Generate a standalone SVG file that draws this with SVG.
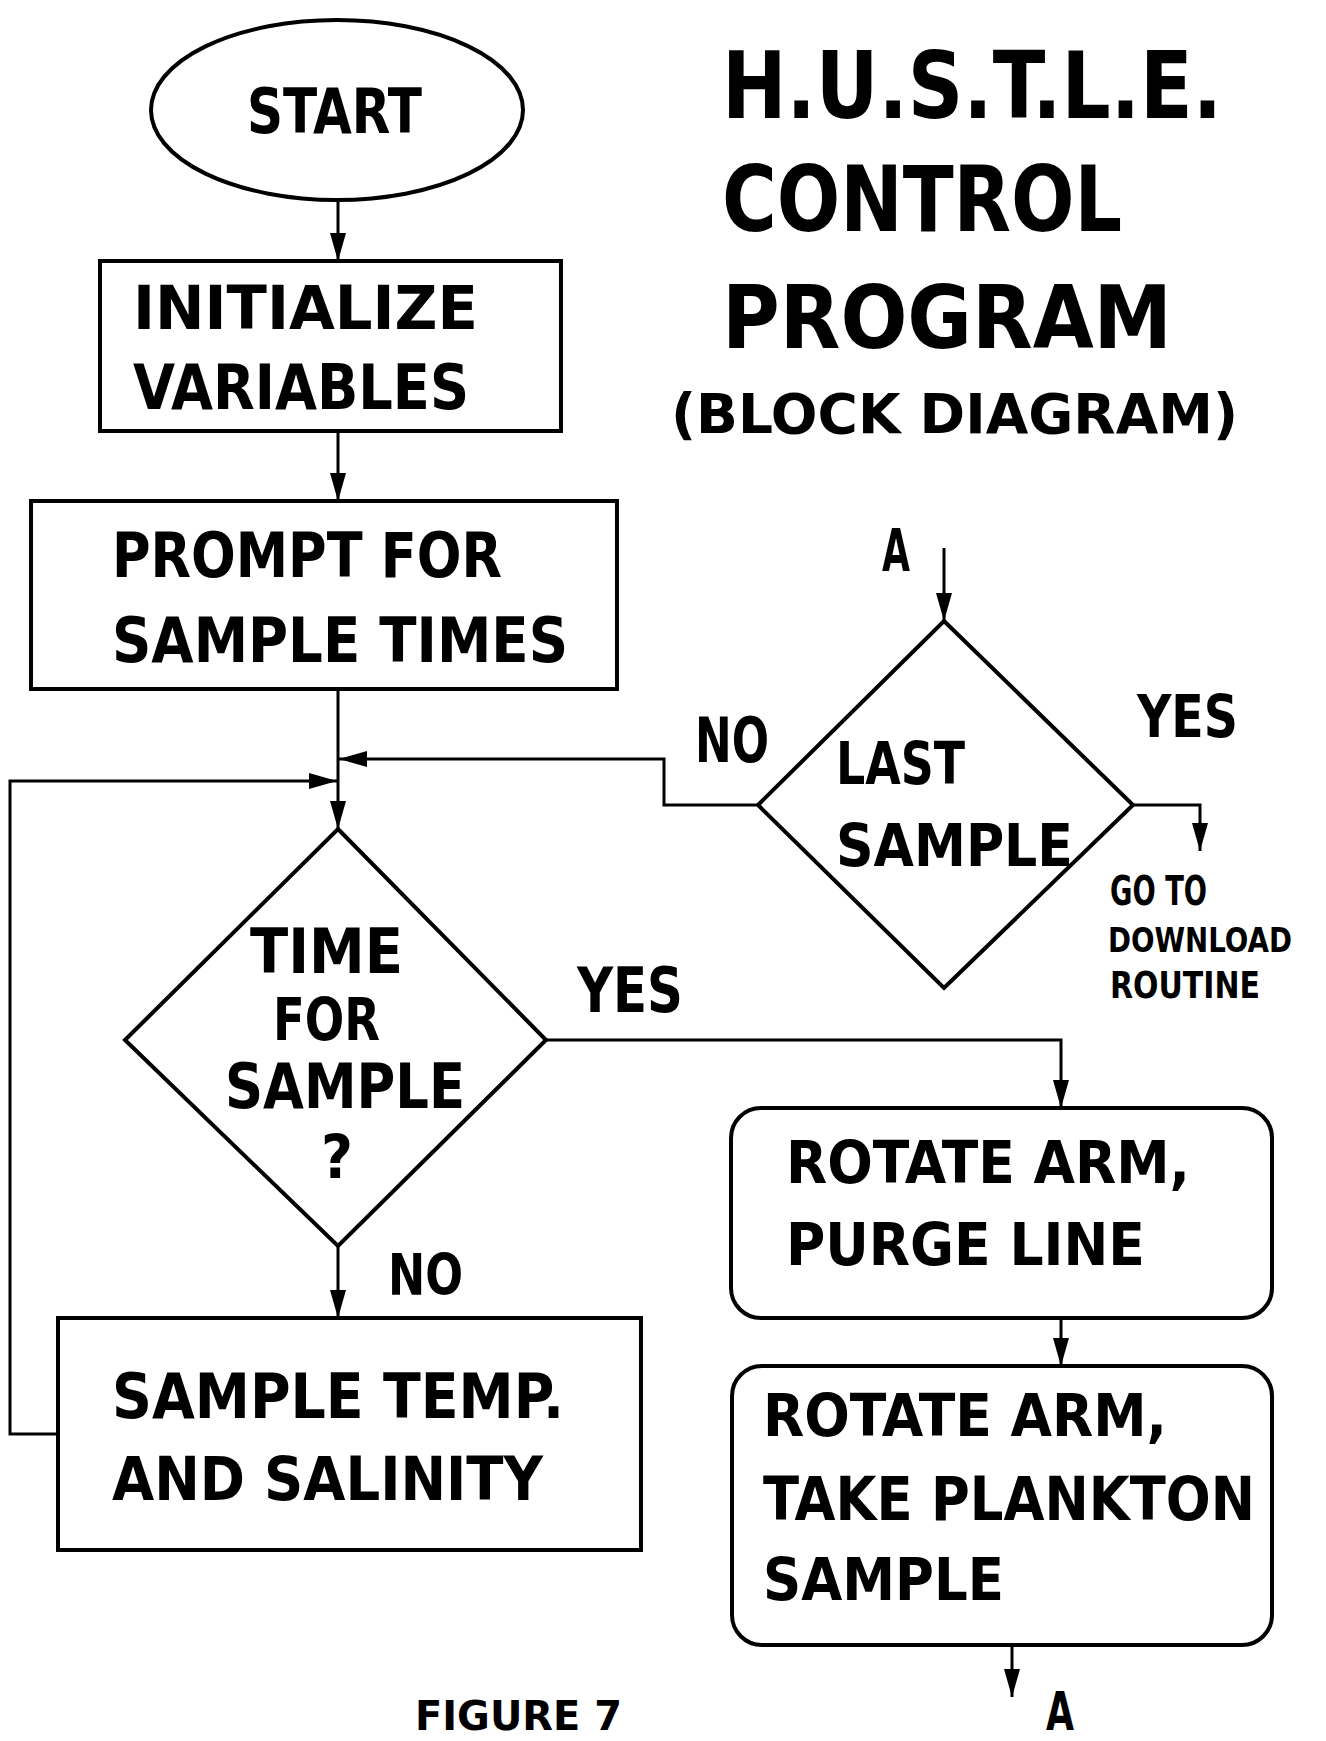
<svg xmlns="http://www.w3.org/2000/svg" width="1326" height="1741" viewBox="0 0 1326 1741">
<style>
.t{font-family:"DejaVu Sans Condensed","Liberation Sans Narrow",sans-serif;font-weight:bold;fill:#000}
.s{fill:#fff;stroke:#000;stroke-width:4}
.c{fill:none;stroke:#000;stroke-width:3}
</style>
<defs>
<marker id="ah" markerUnits="userSpaceOnUse" markerWidth="30" markerHeight="18" refX="28" refY="8" orient="auto">
<path d="M0,0 L28,8 L0,16 z" fill="#000"/>
</marker>
</defs>
<rect width="1326" height="1741" fill="#fff"/>
<g id="connectors">
<line class="c" x1="338" y1="201" x2="338" y2="261" marker-end="url(#ah)"/>
<line class="c" x1="338" y1="431" x2="338" y2="501" marker-end="url(#ah)"/>
<line class="c" x1="338" y1="689" x2="338" y2="829" marker-end="url(#ah)"/>
<polyline class="c" points="758,805 664,805 664,759 339,759" marker-end="url(#ah)"/>
<polyline class="c" points="58,1434 10,1434 10,781 337,781" marker-end="url(#ah)"/>
<polyline class="c" points="546,1040 1061,1040 1061,1108" marker-end="url(#ah)"/>
<line class="c" x1="338" y1="1246" x2="338" y2="1318" marker-end="url(#ah)"/>
<line class="c" x1="1061" y1="1318" x2="1061" y2="1366" marker-end="url(#ah)"/>
<line class="c" x1="1012" y1="1645" x2="1012" y2="1697" marker-end="url(#ah)"/>
<line class="c" x1="944" y1="548" x2="944" y2="621" marker-end="url(#ah)"/>
<polyline class="c" points="1133,805 1200,805 1200,851" marker-end="url(#ah)"/>
</g>
<g id="title">
<text class="t" x="722" y="118" font-size="93" textLength="500" lengthAdjust="spacingAndGlyphs">H.U.S.T.L.E.</text>
<text class="t" x="722" y="231" font-size="90" textLength="400" lengthAdjust="spacingAndGlyphs">CONTROL</text>
<text class="t" x="722" y="348" font-size="88" textLength="450" lengthAdjust="spacingAndGlyphs">PROGRAM</text>
<text class="t" x="671" y="433" font-size="55" textLength="567" lengthAdjust="spacingAndGlyphs">(BLOCK DIAGRAM)</text>
</g>
<g id="start">
<ellipse class="s" cx="337" cy="110" rx="186" ry="90"/>
<text class="t" x="247" y="133" font-size="62" textLength="175" lengthAdjust="spacingAndGlyphs">START</text>
</g>
<g id="initialize">
<rect class="s" x="100" y="261" width="461" height="170"/>
<text class="t" x="133" y="329" font-size="60" textLength="345" lengthAdjust="spacingAndGlyphs">INITIALIZE</text>
<text class="t" x="133" y="409" font-size="62" textLength="336" lengthAdjust="spacingAndGlyphs">VARIABLES</text>
</g>
<g id="prompt">
<rect class="s" x="31" y="501" width="586" height="188"/>
<text class="t" x="112" y="577" font-size="62" textLength="390" lengthAdjust="spacingAndGlyphs">PROMPT FOR</text>
<text class="t" x="112" y="662" font-size="62" textLength="456" lengthAdjust="spacingAndGlyphs">SAMPLE TIMES</text>
</g>
<g id="time-for-sample">
<polygon class="s" points="338,829 546,1040 338,1246 125,1040"/>
<text class="t" x="250" y="973" font-size="63" textLength="153" lengthAdjust="spacingAndGlyphs">TIME</text>
<text class="t" x="273" y="1040" font-size="58" textLength="107" lengthAdjust="spacingAndGlyphs">FOR</text>
<text class="t" x="225" y="1108" font-size="62" textLength="240" lengthAdjust="spacingAndGlyphs">SAMPLE</text>
<text class="t" x="321" y="1178" font-size="60" textLength="32" lengthAdjust="spacingAndGlyphs">?</text>
<text class="t" x="577" y="1012" font-size="63" textLength="106" lengthAdjust="spacingAndGlyphs">YES</text>
<text class="t" x="388" y="1295" font-size="57" textLength="75" lengthAdjust="spacingAndGlyphs">NO</text>
</g>
<g id="sample-temp">
<rect class="s" x="58" y="1318" width="583" height="232"/>
<text class="t" x="112" y="1418" font-size="62" textLength="452" lengthAdjust="spacingAndGlyphs">SAMPLE TEMP.</text>
<text class="t" x="112" y="1500" font-size="61" textLength="431" lengthAdjust="spacingAndGlyphs">AND SALINITY</text>
</g>
<g id="last-sample">
<polygon class="s" points="944,621 1133,805 944,988 758,805"/>
<text class="t" x="882" y="571" font-size="59" textLength="28" lengthAdjust="spacingAndGlyphs">A</text>
<text class="t" x="695" y="762" font-size="62" textLength="74" lengthAdjust="spacingAndGlyphs">NO</text>
<text class="t" x="1137" y="737" font-size="59" textLength="101" lengthAdjust="spacingAndGlyphs">YES</text>
<text class="t" x="836" y="784" font-size="59" textLength="129" lengthAdjust="spacingAndGlyphs">LAST</text>
<text class="t" x="836" y="866" font-size="59" textLength="237" lengthAdjust="spacingAndGlyphs">SAMPLE</text>
<text class="t" x="1110" y="905" font-size="40" textLength="97" lengthAdjust="spacingAndGlyphs">GO TO</text>
<text class="t" x="1108" y="952" font-size="34" textLength="184" lengthAdjust="spacingAndGlyphs">DOWNLOAD</text>
<text class="t" x="1110" y="998" font-size="38" textLength="150" lengthAdjust="spacingAndGlyphs">ROUTINE</text>
</g>
<g id="purge">
<rect class="s" x="731" y="1108" width="541" height="210" rx="30" ry="30"/>
<text class="t" x="786" y="1183" font-size="59" textLength="404" lengthAdjust="spacingAndGlyphs">ROTATE ARM,</text>
<text class="t" x="786" y="1265" font-size="59" textLength="359" lengthAdjust="spacingAndGlyphs">PURGE LINE</text>
</g>
<g id="plankton">
<rect class="s" x="732" y="1366" width="540" height="279" rx="30" ry="30"/>
<text class="t" x="763" y="1436" font-size="59" textLength="404" lengthAdjust="spacingAndGlyphs">ROTATE ARM,</text>
<text class="t" x="763" y="1520" font-size="60" textLength="492" lengthAdjust="spacingAndGlyphs">TAKE PLANKTON</text>
<text class="t" x="763" y="1600" font-size="59" textLength="241" lengthAdjust="spacingAndGlyphs">SAMPLE</text>
<text class="t" x="1046" y="1730" font-size="54" textLength="28" lengthAdjust="spacingAndGlyphs">A</text>
</g>
<g id="caption">
<text class="t" x="415" y="1730" font-size="40" textLength="207" lengthAdjust="spacingAndGlyphs">FIGURE 7</text>
</g>
</svg>
